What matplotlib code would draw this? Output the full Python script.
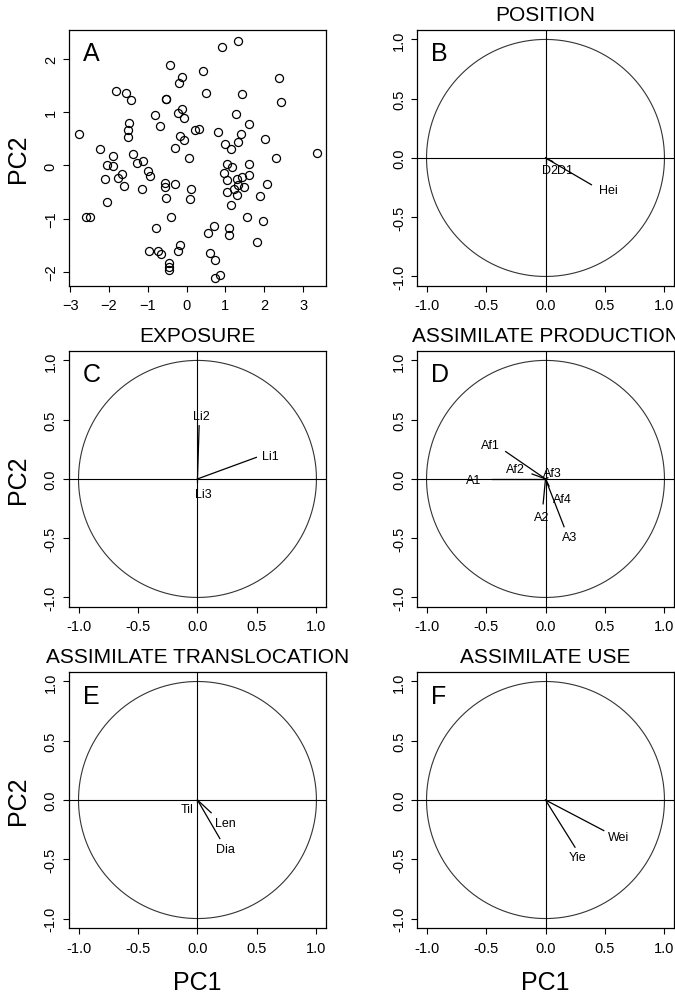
import numpy as np
import matplotlib.pyplot as plt

plt.rcParams['font.family'] = ['Liberation Sans', 'DejaVu Sans']

# panel A: PC scores of the individual plants
pc1_scores = [0.92, 1.33, -0.44, 0.42, -0.12, -0.19, 2.39, 2.43, -1.81, -1.55,
              -1.44, -0.52, -0.53, 0.50, 1.44, -0.12, -0.22, -0.07, -0.82, 1.27,
              1.61, -1.49, -1.50, -1.50, -0.68, 0.21, 0.32, 0.82, 1.40, -2.77,
              -0.16, -0.07, 2.03, 0.99, 1.33, 1.15, -2.24, -0.29, 3.35, -1.38,
              -1.89, -1.13, -1.29, 0.07, 2.31, -2.06, -1.90, 1.03, 1.61, 1.16,
              -0.99, -0.95, 0.96, -1.66, -2.11, -1.77, 1.03, 1.29, 1.42, 1.62,
              -1.60, -0.55, -0.31, 2.06, -0.55, -1.16, 0.12, 1.32, 1.21, 1.48,
              1.03, -0.53, 0.09, 1.29, 1.89, -2.04, 1.14, -2.60, -2.50, -0.39,
              1.56, 1.96, -0.79, 0.70, 1.08, 1.08, 0.54, 1.82, -0.16, -0.21,
              -0.96, -0.74, -0.66, 0.61, 0.72, -0.46, -0.46, -0.46, 0.86, 0.74]
pc2_scores = [2.22, 2.34, 1.88, 1.77, 1.66, 1.54, 1.64, 1.18, 1.39, 1.36,
              1.22, 1.25, 1.24, 1.36, 1.33, 1.05, 0.98, 0.89, 0.94, 0.96,
              0.78, 0.79, 0.67, 0.53, 0.73, 0.67, 0.69, 0.63, 0.59, 0.59,
              0.55, 0.48, 0.50, 0.41, 0.43, 0.31, 0.30, 0.33, 0.24, 0.22,
              0.18, 0.08, 0.04, 0.14, 0.14, 0.00, -0.01, 0.02, 0.02, -0.03,
              -0.11, -0.19, -0.14, -0.17, -0.26, -0.24, -0.28, -0.25, -0.22, -0.18,
              -0.38, -0.33, -0.34, -0.34, -0.41, -0.44, -0.44, -0.36, -0.45, -0.41,
              -0.49, -0.61, -0.63, -0.56, -0.58, -0.68, -0.75, -0.97, -0.96, -0.97,
              -0.97, -1.04, -1.17, -1.14, -1.18, -1.30, -1.27, -1.43, -1.50, -1.61,
              -1.61, -1.61, -1.66, -1.64, -1.78, -1.83, -1.91, -1.96, -2.06, -2.11]

# correlation circle loadings (vector ends) and where the names sit
pos_names = ['Hei', 'D1', 'D2']
pos_pc1 = [0.386, 0.06, 0.0]
pos_pc2 = [-0.226, -0.03, -0.04]
pos_lab_x = [0.53, 0.16, 0.04]
pos_lab_y = [-0.27, -0.105, -0.105]

exp_names = ['Li1', 'Li2', 'Li3']
exp_pc1 = [0.495, 0.014, 0.0]
exp_pc2 = [0.182, 0.449, -0.03]
exp_lab_x = [0.61, 0.034, 0.048]
exp_lab_y = [0.196, 0.53, -0.13]

prod_names = ['Af1', 'Af2', 'Af3', 'A1', 'Af4', 'A2', 'A3']
prod_pc1 = [-0.335, -0.113, 0.02, -0.45, 0.03, -0.02, 0.156]
prod_pc2 = [0.231, 0.042, 0.01, 0.0, -0.06, -0.21, -0.403]
prod_lab_x = [-0.46, -0.255, 0.06, -0.6, 0.14, -0.035, 0.2]
prod_lab_y = [0.287, 0.085, 0.048, -0.008, -0.17, -0.325, -0.49]

trans_names = ['Len', 'Dia', 'Til']
trans_pc1 = [0.115, 0.188, 0.0]
trans_pc2 = [-0.107, -0.325, -0.02]
trans_lab_x = [0.236, 0.236, -0.087]
trans_lab_y = [-0.194, -0.415, -0.073]

use_names = ['Wei', 'Yie']
use_pc1 = [0.49, 0.248]
use_pc2 = [-0.258, -0.398]
use_lab_x = [0.618, 0.268]
use_lab_y = [-0.314, -0.482]


fig = plt.figure(figsize=(6.75, 9.95), dpi=100)

col_x = [0.1022, 0.6178]
row_y = [0.7116, 0.389, 0.0663]
w, h = 0.3807, 0.2573


def style_axes(ax, letter):
    for s in ax.spines.values():
        s.set_linewidth(0.9)
    ax.tick_params(direction='out', length=4, width=0.8, labelsize=10.5)
    ax.tick_params(axis='x', pad=5)
    ax.tick_params(axis='y', pad=4)
    for lab in ax.get_yticklabels():
        lab.set_rotation(90)
        lab.set_va('center')
    ax.text(0.055, 0.955, letter, transform=ax.transAxes, fontsize=18,
            ha='left', va='top')


def circle_panel(ax, title, letter, names, pc1, pc2, lab_x, lab_y):
    t = np.linspace(0, 2 * np.pi, 400)
    ax.plot(np.cos(t), np.sin(t), color='#333333', lw=0.8)
    ax.axhline(0, color='black', lw=0.8)
    ax.axvline(0, color='black', lw=0.8)
    for name, x, y, lx, ly in zip(names, pc1, pc2, lab_x, lab_y):
        ax.plot([0, x], [0, y], color='black', lw=0.9)
        ax.text(lx, ly, name, fontsize=9, ha='center', va='center')
    ax.set_xlim(-1.08, 1.08)
    ax.set_ylim(-1.08, 1.08)
    ticks = [-1.0, -0.5, 0.0, 0.5, 1.0]
    ax.set_xticks(ticks)
    ax.set_yticks(ticks)
    ax.set_xticklabels(['%.1f' % v for v in ticks])
    ax.set_yticklabels(['%.1f' % v for v in ticks])
    ax.set_title(title, fontsize=15, pad=7)
    style_axes(ax, letter)


# A: scores
axA = fig.add_axes([col_x[0], row_y[0], w, h])
axA.plot(pc1_scores, pc2_scores, 'o', mfc='none', mec='black', ms=5.8, mew=0.9)
axA.set_xlim(-3.03, 3.59)
axA.set_ylim(-2.26, 2.54)
axA.set_xticks([-3, -2, -1, 0, 1, 2, 3])
axA.set_yticks([-2, -1, 0, 1, 2])
axA.set_ylabel('PC2', fontsize=18, labelpad=10)
style_axes(axA, 'A')

axB = fig.add_axes([col_x[1], row_y[0], w, h])
circle_panel(axB, 'POSITION', 'B', pos_names, pos_pc1, pos_pc2, pos_lab_x, pos_lab_y)

axC = fig.add_axes([col_x[0], row_y[1], w, h])
circle_panel(axC, 'EXPOSURE', 'C', exp_names, exp_pc1, exp_pc2, exp_lab_x, exp_lab_y)
axC.set_ylabel('PC2', fontsize=18, labelpad=10)

axD = fig.add_axes([col_x[1], row_y[1], w, h])
circle_panel(axD, 'ASSIMILATE PRODUCTION', 'D', prod_names, prod_pc1, prod_pc2,
             prod_lab_x, prod_lab_y)

axE = fig.add_axes([col_x[0], row_y[2], w, h])
circle_panel(axE, 'ASSIMILATE TRANSLOCATION', 'E', trans_names, trans_pc1, trans_pc2,
             trans_lab_x, trans_lab_y)
axE.set_ylabel('PC2', fontsize=18, labelpad=10)
axE.set_xlabel('PC1', fontsize=18, labelpad=11)

axF = fig.add_axes([col_x[1], row_y[2], w, h])
circle_panel(axF, 'ASSIMILATE USE', 'F', use_names, use_pc1, use_pc2, use_lab_x, use_lab_y)
axF.set_xlabel('PC1', fontsize=18, labelpad=11)

fig.savefig('out.png', dpi=100)
